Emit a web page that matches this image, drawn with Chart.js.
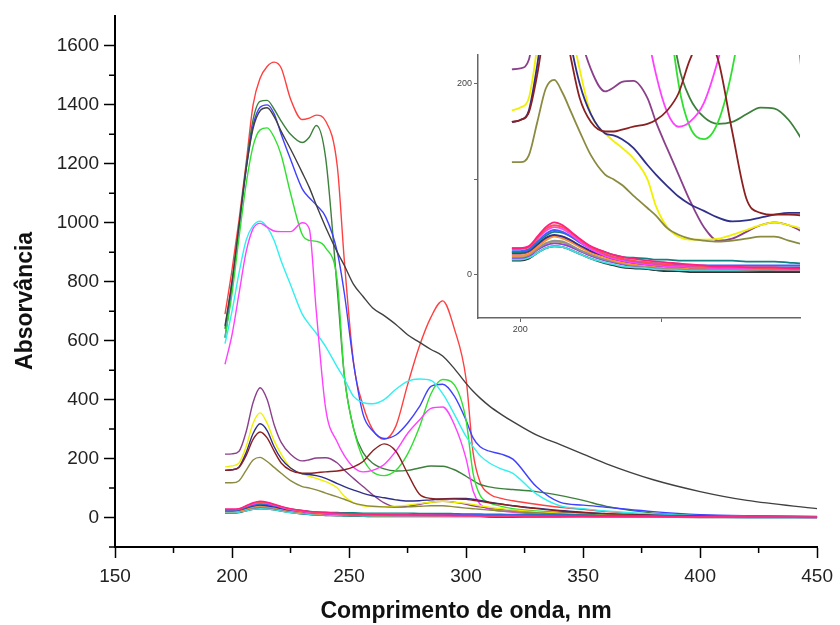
<!DOCTYPE html>
<html>
<head>
<meta charset="utf-8">
<script src="https://cdn.jsdelivr.net/npm/chart.js@4.4.1/dist/chart.umd.min.js"></script>
<style>
  html, body { margin: 0; padding: 0; background: #fff; }
  #wrap { position: relative; width: 840px; height: 625px; }
  #main { position: absolute; left: 0; top: 0; }
  #inset { position: absolute; left: 440px; top: 45px; }
</style>
</head>
<body>
<div id="wrap">
  <canvas id="main" width="840" height="625"></canvas>
  <canvas id="inset" width="370" height="300"></canvas>
</div>
<script>
// wavelength grid (nm) shared by every spectrum
const wavelengths = [197,200,203,206,209,212,215,218,221,225,230,233,236,240,245,248,252,256,260,265,270,275,280,285,290,295,300,303,306,310,315,320,330,340,350,360,380,400,420,450];

// concentrated spectra
const red = [690,840,1010,1200,1400,1490,1530,1545,1525,1420,1350,1355,1365,1345,1190,870,520,380,300,265,310,450,580,680,735,640,470,220,120,80,65,57,45,35,28,20,10,5,3,2];
const darkGreen = [640,800,990,1190,1350,1412,1415,1385,1345,1300,1272,1290,1330,1220,770,480,300,220,185,165,158,160,168,175,174,162,140,125,112,104,98,95,88,75,58,38,15,8,5,3];
const blue = [610,780,980,1180,1330,1392,1400,1370,1300,1215,1115,1085,1060,1020,900,760,520,350,295,268,280,320,375,445,452,412,330,270,240,225,215,198,105,52,42,35,20,10,6,4];
const black = [650,800,990,1180,1320,1380,1390,1360,1310,1250,1170,1120,1060,985,900,855,790,750,712,685,655,620,595,570,548,505,455,428,405,378,350,325,280,248,215,182,128,88,58,30];
const green = [610,760,950,1130,1260,1315,1322,1290,1230,1100,960,940,937,915,800,480,300,200,155,142,160,215,305,420,468,450,330,150,75,50,38,30,22,17,13,10,6,4,3,2];
const cyan = [590,700,830,940,990,1005,985,940,870,790,690,655,625,580,510,470,410,390,386,400,435,462,470,465,420,350,275,240,210,185,165,150,80,40,30,22,12,6,4,2];
const magenta = [520,620,760,900,980,998,985,972,970,970,1000,980,700,370,255,210,170,155,160,180,225,285,330,370,375,315,200,90,45,28,22,18,12,9,7,5,3,2,1,1];

// intermediate spectra
const purple = [215,216,225,290,390,440,400,315,255,215,192,196,202,203,185,160,132,105,78,50,36,38,45,52,55,52,45,40,36,32,28,25,20,16,12,9,6,4,3,2];
const yellow = [172,175,185,240,320,355,320,260,215,168,148,140,133,122,100,72,50,40,37,37,38,42,47,52,55,52,48,44,40,35,30,26,20,15,12,9,6,4,3,2];
const navy = [160,162,172,220,285,318,295,240,200,168,148,146,142,133,115,105,93,82,74,67,60,56,57,60,63,65,65,62,58,52,46,40,32,24,18,13,8,5,3,2];
const brown = [160,162,170,210,265,290,270,225,185,160,150,150,152,155,158,162,172,190,225,250,225,150,80,65,63,63,62,58,55,50,45,40,30,22,16,12,7,4,3,2];
const olive = [118,118,125,160,195,204,190,170,150,125,105,100,94,83,70,62,49,42,38,36,35,36,38,40,40,36,32,30,28,25,22,20,16,12,10,8,5,3,2,1];

// dilute spectra
const pinkLow = [28,28,30,40,50,55,52,45,38,30,24,21,19,17,15,14,13,12,11,10,9,9,8,8,8,7,7,7,6,6,6,5,5,4,4,3,3,2,2,1];
const redLow = [27,27,29,38,48,52,50,44,37,29,22,19,17,15,13,12,11,10,10,9,8,8,8,7,7,7,6,6,6,5,5,5,4,4,3,3,2,2,1,1];
const magentaLow = [28,28,30,38,46,50,48,42,35,27,20,17,15,13,11,10,9,9,8,8,7,7,7,7,6,6,6,6,5,5,5,4,4,3,3,2,2,1,1,0];
const blueLow = [25,25,27,35,43,47,45,40,34,27,21,18,16,14,13,12,11,11,10,10,10,10,10,10,10,10,10,10,9,9,9,9,8,8,7,6,4,3,2,1];
const tealLow = [24,24,26,34,41,45,44,40,35,29,24,21,19,18,17,16,16,15,15,15,15,15,14,14,14,13,12,12,12,11,11,10,10,10,9,6,4,3,2,1];
const navyLow = [23,23,25,32,39,42,40,36,31,25,20,17,15,13,11,10,9,9,8,8,8,8,8,8,8,8,8,7,7,7,7,6,6,5,5,4,3,2,1,1];
const orangeLow = [20,20,22,29,36,40,38,34,29,23,18,15,13,11,10,9,8,8,7,7,7,7,7,7,6,6,6,6,6,5,5,5,4,4,3,3,2,2,1,1];
const grayLow = [20,20,21,27,33,36,35,31,26,21,16,14,12,10,9,8,7,7,6,6,6,6,5,5,5,5,5,5,4,4,4,4,3,3,3,2,2,1,1,0];
const cyanLow = [16,16,18,23,28,30,29,26,22,17,13,11,9,8,7,6,6,5,5,5,5,5,5,5,5,5,5,4,4,4,4,4,3,3,2,2,1,1,0,0];
const blackLow = [15,15,17,23,28,30,29,26,22,17,12,10,8,7,6,5,4,4,3,3,3,3,3,3,3,3,3,3,3,2,2,2,2,2,1,1,1,0,0,0];
const violetLow = [17,17,19,26,31,33,32,29,25,20,15,13,11,9,8,7,6,6,5,5,5,5,5,4,4,4,4,4,4,4,3,3,3,3,2,2,1,1,0,0];
const oliveLow = [18,18,20,27,33,35,34,30,26,21,16,14,12,10,9,8,7,7,6,6,6,6,6,6,5,5,5,5,5,4,4,4,4,3,3,2,2,1,1,0];
const roseLow = [22,22,24,31,38,41,40,36,30,24,19,16,14,12,11,10,9,9,8,8,8,7,7,7,7,7,6,6,6,6,5,5,5,4,4,3,2,2,1,1];

// axis ticks
const xTicks = [150,200,250,300,350,400,450];
const xMinor = [175,225,275,325,375,425];
const yTicks = [0,200,400,600,800,1000,1200,1400,1600];
const yMinor = [-100,100,300,500,700,900,1100,1300,1500];
const insetXTicks = [200,250];
const insetYTicks = [0,100,200];

const series = [
  [pinkLow, '#ff2080'], [redLow, '#ff5050'], [magentaLow, '#ff40ff'], [blueLow, '#4060ff'],
  [tealLow, '#108080'], [navyLow, '#303090'], [orangeLow, '#ff9030'], [grayLow, '#909090'],
  [cyanLow, '#40e0e0'], [blackLow, '#303030'], [violetLow, '#9040e0'], [oliveLow, '#a0a050'],
  [roseLow, '#c05060'],
  [olive, '#8a8a40'], [brown, '#8a2020'], [navy, '#30308a'], [yellow, '#f0f000'], [purple, '#8a408a'],
  [magenta, '#ff40ff'], [cyan, '#30f0f0'], [green, '#30e030'], [black, '#404040'],
  [blue, '#4040ff'], [darkGreen, '#3c803c'], [red, '#ff4040']
];

function makeDatasets(width) {
  return series.map(([vals, color]) => ({
    data: wavelengths.map((w, i) => ({ x: w, y: vals[i] })),
    borderColor: color,
    borderWidth: width,
    pointRadius: 0,
    cubicInterpolationMode: 'monotone',
    fill: false
  }));
}

const minorTicks = {
  id: 'minorTicks',
  afterDraw(chart, args, o) {
    const { ctx } = chart;
    const xs = chart.scales.x, ys = chart.scales.y;
    ctx.save();
    ctx.strokeStyle = o.color;
    ctx.lineWidth = o.width;
    ctx.beginPath();
    (o.x || []).forEach(v => {
      const p = xs.getPixelForValue(v);
      ctx.moveTo(p, xs.top);
      ctx.lineTo(p, xs.top + o.len);
    });
    (o.y || []).forEach(v => {
      const p = ys.getPixelForValue(v);
      ctx.moveTo(ys.right, p);
      ctx.lineTo(ys.right - o.len, p);
    });
    ctx.stroke();
    ctx.restore();
  }
};

const fontFam = "'Liberation Sans', Arial, sans-serif";

new Chart(document.getElementById('main'), {
  type: 'line',
  data: { datasets: makeDatasets(1.4) },
  plugins: [minorTicks],
  options: {
    responsive: false,
    animation: false,
    devicePixelRatio: 1,
    layout: { padding: { top: 14, right: 21, left: 0, bottom: 0 } },
    plugins: {
      legend: { display: false },
      tooltip: { enabled: false },
      minorTicks: { x: xMinor, y: yMinor, len: 6, color: '#000', width: 1.5 }
    },
    scales: {
      x: {
        type: 'linear',
        min: 150,
        max: 450,
        afterBuildTicks: s => { s.ticks = xTicks.map(v => ({ value: v })); },
        afterFit: s => { s.height = 78; },
        border: { color: '#000', width: 2 },
        grid: { drawOnChartArea: false, tickLength: 11, tickColor: '#000', tickWidth: 1.5 },
        ticks: { color: '#222', font: { family: fontFam, size: 19 }, padding: 7, maxRotation: 0, callback: v => String(v) },
        title: {
          display: true,
          text: 'Comprimento de onda, nm',
          color: '#111',
          font: { family: fontFam, size: 23, weight: 'bold' },
          padding: { top: 0, bottom: 0 }
        }
      },
      y: {
        type: 'linear',
        min: -100,
        max: 1700,
        afterBuildTicks: s => { s.ticks = yTicks.map(v => ({ value: v })); },
        afterFit: s => { s.width = 115; },
        border: { color: '#000', width: 2 },
        grid: { drawOnChartArea: false, tickLength: 11, tickColor: '#000', tickWidth: 1.5 },
        ticks: { color: '#222', font: { family: fontFam, size: 19 }, padding: 5, callback: v => String(v) },
        title: {
          display: true,
          text: 'Absorvância\u00a0\u00a0\u00a0\u00a0\u00a0\u00a0',
          color: '#111',
          font: { family: fontFam, size: 23, weight: 'bold' },
          padding: { top: 12, bottom: 0 }
        }
      }
    }
  }
});

new Chart(document.getElementById('inset'), {
  type: 'line',
  data: { datasets: makeDatasets(1.8) },
  options: {
    responsive: false,
    animation: false,
    devicePixelRatio: 1,
    layout: { padding: { top: 10, right: 10, left: 0, bottom: 0 } },
    plugins: { legend: { display: false }, tooltip: { enabled: false } },
    scales: {
      x: {
        type: 'linear',
        min: 185,
        max: 299,
        afterBuildTicks: s => { s.ticks = insetXTicks.map(v => ({ value: v })); },
        afterFit: s => { s.height = 27; },
        border: { color: '#666', width: 1.5 },
        grid: { drawOnChartArea: false, tickLength: 4, tickColor: '#666', tickWidth: 1 },
        ticks: {
          color: '#444',
          font: { family: fontFam, size: 9 },
          padding: 2,
          maxRotation: 0,
          callback: v => (v === 200 ? '200' : '')
        }
      },
      y: {
        type: 'linear',
        min: -45,
        max: 230,
        afterBuildTicks: s => { s.ticks = insetYTicks.map(v => ({ value: v })); },
        afterFit: s => { s.width = 38; },
        border: { color: '#666', width: 1.5 },
        grid: { drawOnChartArea: false, tickLength: 4, tickColor: '#666', tickWidth: 1 },
        ticks: {
          color: '#444',
          font: { family: fontFam, size: 9 },
          padding: 2,
          callback: v => (v === 100 ? '' : String(v))
        }
      }
    }
  }
});
</script>
</body>
</html>
